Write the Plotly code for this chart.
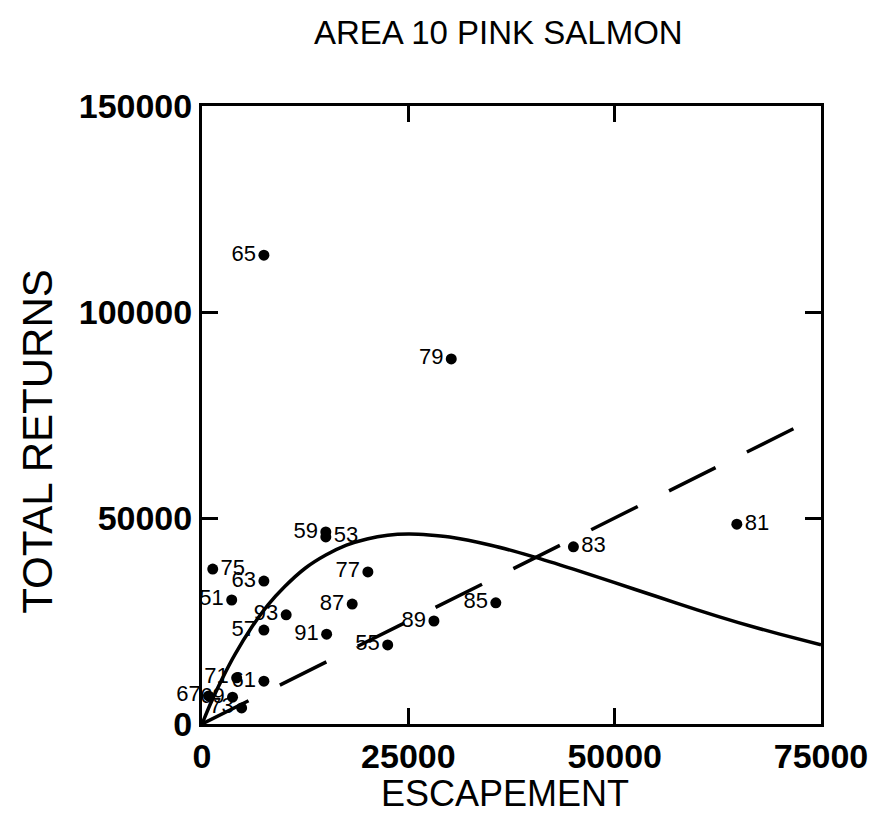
import plotly.graph_objects as go

# Brood years and their escapement / total returns
years = ["51", "53", "55", "57", "59", "61", "63", "65", "67", "69", "71",
         "73", "75", "77", "79", "81", "83", "85", "87", "89", "91", "93"]
escapement = [3600, 15000, 22500, 7500, 15000, 7500, 7500, 7500, 800, 3700, 4200,
              4800, 1300, 20100, 30200, 64800, 45000, 35600, 18200, 28100, 15100, 10200]
returns = [30100, 45400, 19200, 22800, 46600, 10400, 34700, 113800, 6800, 6500, 11200,
           3900, 37600, 36900, 88600, 48500, 43000, 29400, 29100, 25000, 21800, 26500]
label_side = ["middle left", "middle right", "middle left", "middle left", "middle left",
              "middle left", "middle left", "middle left", "middle left", "middle left",
              "middle left", "middle left", "middle right", "middle left", "middle left",
              "middle right", "middle right", "middle left", "middle left", "middle left",
              "middle left", "middle left"]

# Fitted stock-recruitment curve
curve_s = [0, 1000, 2500, 4000, 6000, 8000, 10000, 12500, 15000, 17500, 20000, 22500,
           25000, 27500, 30000, 35000, 40000, 45000, 50000, 55000, 60000, 65000, 70000, 75000]
curve_r = [0, 4800, 11200, 16900, 23400, 28900, 33300, 37800, 41000, 43400, 44900, 45800,
           46100, 45900, 45400, 43400, 40700, 37600, 34300, 31000, 27700, 24600, 21800, 19200]

# Replacement line (returns = escapement)
repl_s = [0, 75000]
repl_r = [0, 75000]

x_ticks = [0, 25000, 50000, 75000]
y_ticks = [0, 50000, 100000, 150000]

FONT = "Liberation Sans, Arial, sans-serif"

# plot area in pixels
L, R, T, B = 202, 52, 106, 99
W, H = 880, 823
PW, PH = W - L - R, H - T - B


def px_x(px):
    return (px - L) / PW


def px_y(py):
    return (H - B - py) / PH


fig = go.Figure()

fig.add_trace(go.Scatter(
    x=repl_s, y=repl_r, mode="lines",
    line=dict(color="black", width=3.5, dash="52px,35px"),
    hoverinfo="skip", showlegend=False,
))

fig.add_trace(go.Scatter(
    x=curve_s, y=curve_r, mode="lines",
    line=dict(color="black", width=3.5, shape="spline", smoothing=0.6),
    hoverinfo="skip", showlegend=False,
))

fig.add_trace(go.Scatter(
    x=escapement, y=returns, mode="markers+text",
    marker=dict(color="black", size=11),
    text=years, textposition=label_side,
    textfont=dict(family=FONT, size=22, color="black"),
    showlegend=False, cliponaxis=False,
))

axis_common = dict(
    showline=True, linecolor="black", linewidth=3, mirror="ticks",
    ticks="inside", ticklen=16, tickwidth=3, tickcolor="black",
    showgrid=False, zeroline=False,
    tickfont=dict(family=FONT, size=34, color="black", weight="bold"),
)

fig.update_xaxes(range=[0, 75000], tickvals=x_ticks, ticktext=[str(v) for v in x_ticks],
                 **axis_common)
fig.update_yaxes(range=[0, 150000], tickvals=y_ticks, ticktext=[str(v) for v in y_ticks],
                 **axis_common)

fig.update_layout(
    width=W, height=H,
    margin=dict(l=L, r=R, t=T, b=B),
    plot_bgcolor="white", paper_bgcolor="white",
    annotations=[
        dict(text="AREA 10 PINK SALMON", xref="paper", yref="paper",
             x=px_x(502), y=px_y(33), xanchor="center", yanchor="middle",
             showarrow=False, font=dict(family=FONT, size=33, color="black")),
        dict(text="ESCAPEMENT", xref="paper", yref="paper",
             x=px_x(508), y=px_y(793), xanchor="center", yanchor="middle",
             showarrow=False, font=dict(family=FONT, size=36, color="black")),
        dict(text="TOTAL RETURNS", xref="paper", yref="paper",
             x=px_x(35), y=px_y(441), xanchor="center", yanchor="middle",
             textangle=-90, showarrow=False,
             font=dict(family=FONT, size=42, color="black")),
    ],
)

fig.write_html("out.html")
